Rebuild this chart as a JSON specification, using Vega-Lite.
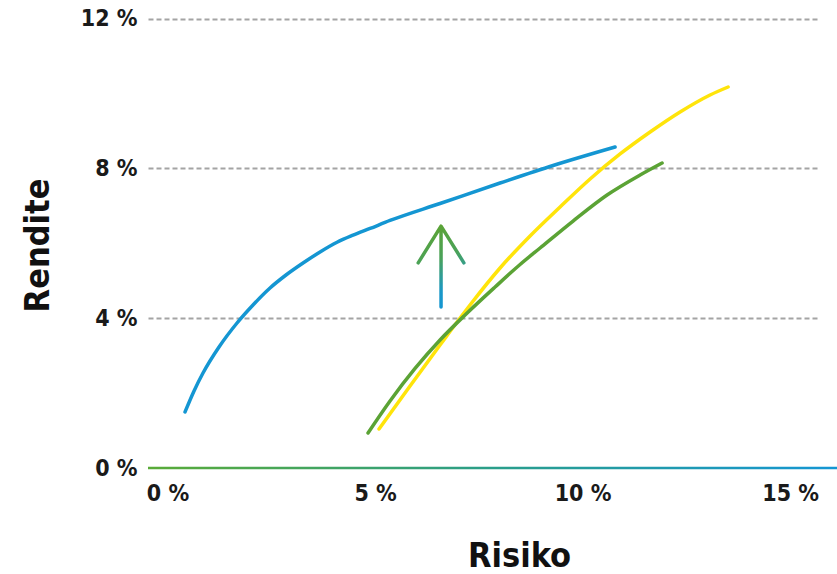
{
  "$schema": "https://vega.github.io/schema/vega-lite/v6.json",
  "width": 672,
  "height": 468,
  "autosize": {"type": "none"},
  "padding": {"left": 148, "top": 0, "right": 17, "bottom": 106},
  "background": "white",
  "config": {"view": {"stroke": null}, "font": "DejaVu Sans Condensed"},
  "datasets": {
    "curves": [
      {"series": "blau", "r": 0.422, "v": 1.496},
      {"series": "blau", "r": 0.639, "v": 2.057},
      {"series": "blau", "r": 0.855, "v": 2.537},
      {"series": "blau", "r": 1.241, "v": 3.232},
      {"series": "blau", "r": 1.675, "v": 3.873},
      {"series": "blau", "r": 2.060, "v": 4.354},
      {"series": "blau", "r": 2.470, "v": 4.808},
      {"series": "blau", "r": 2.855, "v": 5.155},
      {"series": "blau", "r": 3.265, "v": 5.475},
      {"series": "blau", "r": 3.675, "v": 5.769},
      {"series": "blau", "r": 4.084, "v": 6.028},
      {"series": "blau", "r": 4.470, "v": 6.218},
      {"series": "blau", "r": 4.880, "v": 6.397},
      {"series": "blau", "r": 5.361, "v": 6.611},
      {"series": "blau", "r": 6.566, "v": 7.065},
      {"series": "blau", "r": 8.012, "v": 7.612},
      {"series": "blau", "r": 9.289, "v": 8.080},
      {"series": "blau", "r": 10.783, "v": 8.574},
      {"series": "gelb", "r": 5.096, "v": 1.042},
      {"series": "gelb", "r": 5.843, "v": 2.190},
      {"series": "gelb", "r": 6.566, "v": 3.285},
      {"series": "gelb", "r": 7.289, "v": 4.354},
      {"series": "gelb", "r": 8.012, "v": 5.342},
      {"series": "gelb", "r": 8.735, "v": 6.197},
      {"series": "gelb", "r": 9.458, "v": 6.971},
      {"series": "gelb", "r": 10.181, "v": 7.719},
      {"series": "gelb", "r": 10.904, "v": 8.387},
      {"series": "gelb", "r": 11.627, "v": 8.974},
      {"series": "gelb", "r": 12.349, "v": 9.509},
      {"series": "gelb", "r": 13.072, "v": 9.963},
      {"series": "gelb", "r": 13.506, "v": 10.176},
      {"series": "grün", "r": 4.831, "v": 0.935},
      {"series": "grün", "r": 5.361, "v": 1.790},
      {"series": "grün", "r": 5.964, "v": 2.658},
      {"series": "grün", "r": 6.566, "v": 3.419},
      {"series": "grün", "r": 7.169, "v": 4.087},
      {"series": "grün", "r": 7.892, "v": 4.834},
      {"series": "grün", "r": 8.494, "v": 5.435},
      {"series": "grün", "r": 8.976, "v": 5.876},
      {"series": "grün", "r": 9.771, "v": 6.597},
      {"series": "grün", "r": 10.590, "v": 7.292},
      {"series": "grün", "r": 11.386, "v": 7.826},
      {"series": "grün", "r": 11.916, "v": 8.146}
    ],
    "arrow": [
      {"i": 1, "r": 6.59, "v": 4.30},
      {"i": 2, "r": 6.59, "v": 6.46},
      {"i": 3, "r": 6.04, "v": 5.48},
      {"i": 4, "r": 6.59, "v": 6.46},
      {"i": 5, "r": 7.14, "v": 5.48}
    ],
    "base": [{"r": -0.47, "r2": 16.13, "v": -0.035, "v2": 0.035}]
  },
  "encoding": {
    "x": {
      "field": "r", "type": "quantitative",
      "scale": {"domain": [-0.47, 15.72], "nice": false, "zero": false},
      "axis": {
        "values": [0, 5, 10, 15],
        "labelExpr": "datum.value + ' %'",
        "domain": false, "ticks": false, "grid": false,
        "labelFlush": false, "labelPadding": 14, "labelFontSize": 23, "labelFontWeight": "bold", "labelColor": "#1a1a1a",
        "title": "Risiko", "titleFontSize": 34, "titleFontWeight": "bold", "titleColor": "#111111",
        "titleX": 371, "titleY": 98, "titleBaseline": "alphabetic", "titleAlign": "center"
      }
    },
    "y": {
      "field": "v", "type": "quantitative",
      "scale": {"domain": [0, 12.5], "nice": false, "zero": false},
      "axis": {
        "values": [0, 4, 8, 12],
        "labelExpr": "datum.value + ' %'",
        "domain": false, "ticks": false,
        "labelPadding": 11, "labelFontSize": 23, "labelFontWeight": "bold", "labelColor": "#1a1a1a", "labelBaseline": "middle",
        "grid": true, "gridColor": "#a4a4a4", "gridDash": [5, 3], "gridWidth": 2,
        "gridOpacity": {"condition": {"test": "datum.value === 0", "value": 0}, "value": 1},
        "title": "Rendite", "titleFontSize": 34, "titleFontWeight": "bold", "titleColor": "#111111",
        "titleX": -100, "titleY": 245, "titleAngle": -90, "titleAlign": "center", "titleBaseline": "alphabetic"
      }
    }
  },
  "layer": [
    {
      "data": {"name": "curves"},
      "transform": [{"filter": "datum.series === 'blau'"}],
      "mark": {"type": "line", "stroke": "#1496d2", "strokeWidth": 3.5, "strokeCap": "round", "interpolate": "monotone"}
    },
    {
      "data": {"name": "curves"},
      "transform": [{"filter": "datum.series === 'gelb'"}],
      "mark": {"type": "line", "stroke": "#ffe40a", "strokeWidth": 3.5, "strokeCap": "round", "interpolate": "monotone"}
    },
    {
      "data": {"name": "curves"},
      "transform": [{"filter": "datum.series === 'grün'"}],
      "mark": {"type": "line", "stroke": "#5ba335", "strokeWidth": 3.5, "strokeCap": "round", "interpolate": "monotone"}
    },
    {
      "data": {"name": "arrow"},
      "mark": {
        "type": "line", "strokeWidth": 3.5, "strokeCap": "round", "strokeJoin": "round",
        "stroke": {
          "gradient": "linear", "x1": 0.6, "y1": 1, "x2": 0.4, "y2": 0,
          "stops": [
            {"offset": 0, "color": "#1496d2"},
            {"offset": 0.2, "color": "#1a98c8"},
            {"offset": 0.6, "color": "#4aa25a"},
            {"offset": 1, "color": "#5ba335"}
          ]
        }
      },
      "encoding": {
        "order": {"field": "i", "type": "quantitative"}
      }
    },
    {
      "data": {"name": "base"},
      "mark": {
        "type": "rect",
        "fill": {
          "gradient": "linear", "x1": 0, "y1": 0, "x2": 1, "y2": 0,
          "stops": [
            {"offset": 0, "color": "#5aab38"},
            {"offset": 0.5, "color": "#2a9e8a"},
            {"offset": 1, "color": "#1596d4"}
          ]
        }
      },
      "encoding": {
        "x2": {"field": "r2"},
        "y2": {"field": "v2"}
      }
    }
  ]
}
